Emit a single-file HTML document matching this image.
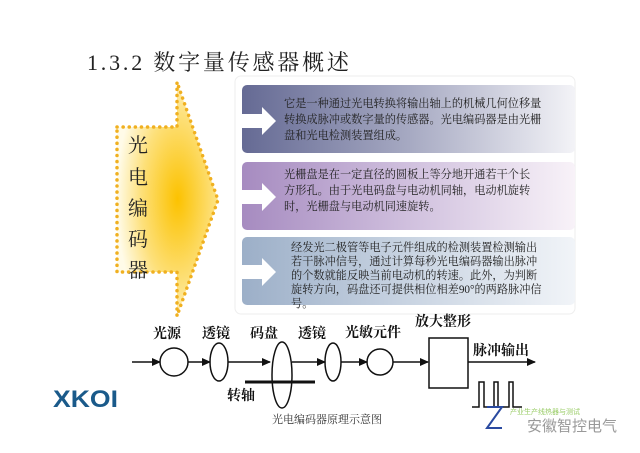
<!DOCTYPE html>
<html><head><meta charset="utf-8"><style>
html,body{margin:0;padding:0;background:#fff;}
svg{display:block;}
text{font-family:"Liberation Serif","Noto Serif CJK SC",serif;}
.s{font-family:"Liberation Sans","Noto Sans CJK SC",sans-serif;}
</style></head><body>
<svg width="640" height="453" viewBox="0 0 640 453" xmlns="http://www.w3.org/2000/svg">
<defs>
<radialGradient id="yg" cx="0.6" cy="0.5" r="0.6">
<stop offset="0" stop-color="#fcc200"/><stop offset="0.6" stop-color="#fde07a"/><stop offset="1" stop-color="#fffbe8"/>
</radialGradient>
<linearGradient id="g1" x1="0" x2="1"><stop offset="0" stop-color="#656a94"/><stop offset="0.5" stop-color="#a6a9c2"/><stop offset="1" stop-color="#f3f3f7"/></linearGradient>
<linearGradient id="g2" x1="0" x2="1"><stop offset="0" stop-color="#a68bc0"/><stop offset="0.5" stop-color="#d0c0de"/><stop offset="1" stop-color="#f8f2f8"/></linearGradient>
<linearGradient id="g3" x1="0" x2="1"><stop offset="0" stop-color="#9cafc8"/><stop offset="0.5" stop-color="#c9d4e2"/><stop offset="1" stop-color="#f1f4f8"/></linearGradient>
<marker id="ar" markerWidth="9" markerHeight="8" refX="8" refY="4" orient="auto" markerUnits="userSpaceOnUse"><path d="M0,0L9,4L0,8z" fill="#111"/></marker>
</defs>
<text x="87" y="70" font-size="22" fill="#222" letter-spacing="2.8">1.3.2 数字量传感器概述</text>
<path d="M117,127 L177,127 L177,82 L218,200 L177,316 L177,272 L117,272 Z" fill="url(#yg)" stroke="#f0b020" stroke-width="3.5" stroke-dasharray="0.1 6" stroke-linecap="round"/>
<g font-size="20" fill="#222">
<text x="128" y="152">光</text><text x="128" y="184">电</text><text x="128" y="215">编</text><text x="128" y="246">码</text><text x="128" y="277">器</text>
</g>
<rect x="235" y="76" width="340" height="238" rx="6" fill="#fff" stroke="#eee"/>
<rect x="242" y="85" width="333" height="68" rx="5" fill="url(#g1)"/>
<rect x="242" y="162" width="333" height="68" rx="5" fill="url(#g2)"/>
<rect x="242" y="237" width="333" height="68" rx="5" fill="url(#g3)"/>
<g fill="#fff">
<path d="M242,114 L262,114 L262,107 L276,121 L262,135 L262,128 L242,128Z"/>
<path d="M242,190 L262,190 L262,183 L276,197 L262,211 L262,204 L242,204Z"/>
<path d="M242,265 L262,265 L262,258 L276,272 L262,286 L262,279 L242,279Z"/>
</g>
<g font-size="11.2" fill="#222">
<text x="284" y="107">它是一种通过光电转换将输出轴上的机械几何位移量</text>
<text x="284" y="123">转换成脉冲或数字量的传感器。光电编码器是由光栅</text>
<text x="284" y="139">盘和光电检测装置组成。</text>
<text x="284" y="178">光栅盘是在一定直径的圆板上等分地开通若干个长</text>
<text x="284" y="194">方形孔。由于光电码盘与电动机同轴，电动机旋转</text>
<text x="284" y="210">时，光栅盘与电动机同速旋转。</text>
<text x="291" y="251">经发光二极管等电子元件组成的检测装置检测输出</text>
<text x="291" y="265">若干脉冲信号，通过计算每秒光电编码器输出脉冲</text>
<text x="291" y="279">的个数就能反映当前电动机的转速。此外，为判断</text>
<text x="291" y="293">旋转方向，码盘还可提供相位相差90°的两路脉冲信</text>
<text x="291" y="307">号。</text>
</g>
<g class="s" font-size="14" fill="#111" font-weight="bold">
<text x="153" y="338">光源</text><text x="202" y="338">透镜</text><text x="250" y="338">码盘</text><text x="298" y="338">透镜</text><text x="345" y="337">光敏元件</text><text x="415" y="326">放大整形</text><text x="473" y="355">脉冲输出</text>
<text x="227" y="400">转轴</text>
</g>
<g stroke="#111" stroke-width="1.5" fill="none">
<line x1="132" y1="362" x2="160" y2="362" marker-end="url(#ar)"/>
<circle cx="174" cy="362" r="14"/>
<line x1="188" y1="362" x2="210" y2="362" marker-end="url(#ar)"/>
<ellipse cx="219" cy="362" rx="9" ry="19"/>
<line x1="228" y1="362" x2="270" y2="362" marker-end="url(#ar)"/>
<ellipse cx="282" cy="375" rx="10" ry="33"/>
<line x1="292" y1="362" x2="325" y2="362" marker-end="url(#ar)"/>
<ellipse cx="333" cy="362" rx="8" ry="19"/>
<line x1="341" y1="362" x2="367" y2="362" marker-end="url(#ar)"/>
<circle cx="380" cy="362" r="13"/>
<line x1="393" y1="362" x2="428" y2="362" marker-end="url(#ar)"/>
<rect x="429" y="338" width="39" height="50"/>
<line x1="468" y1="362" x2="535" y2="362" marker-end="url(#ar)"/>
<path d="M472,407 L479,407 L479,382 L484,382 L484,407 L494,407 L494,382 L498,382 L498,407 L509,407 L509,382 L513,382 L513,407 L522,407"/>
</g>
<line x1="245" y1="382" x2="315" y2="382" stroke="#111" stroke-width="3"/>
<text x="272" y="423" font-size="11" fill="#333">光电编码器原理示意图</text>
<text x="53" y="407" class="s" font-size="24" font-weight="bold" fill="#1a5a8a" textLength="65" lengthAdjust="spacingAndGlyphs">XKOI</text>
<path d="M487,407 L502,407 L487,428 L502,428" stroke="#2a4aa0" stroke-width="2" fill="none"/>
<text x="510" y="414" class="s" font-size="7" fill="#9c6">产业生产线热器与测试</text>
<text x="527" y="431" class="s" font-size="15" fill="#999">安徽智控电气</text>
</svg>
</body></html>
